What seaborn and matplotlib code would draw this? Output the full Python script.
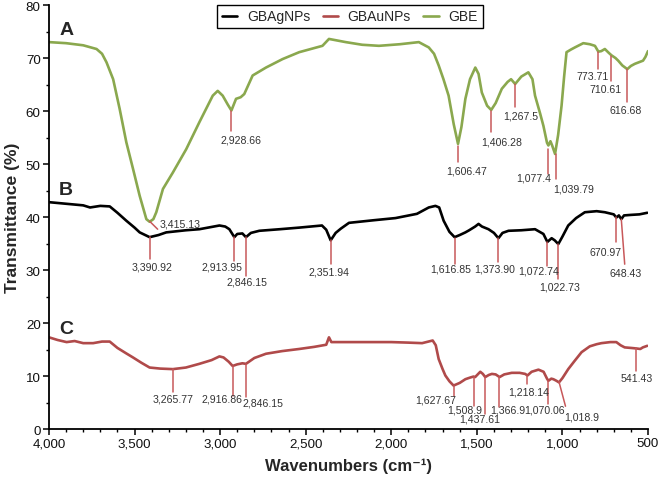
import numpy as np
import pandas as pd
import matplotlib
matplotlib.use("Agg")
import matplotlib.pyplot as plt
from matplotlib.ticker import MultipleLocator, FuncFormatter
import seaborn as sns

# ---------------- data ----------------
series_names = ["GBAgNPs", "GBAuNPs", "GBE"]

gbe_wn = [4000, 3900, 3800, 3722, 3690, 3664, 3625, 3587, 3548, 3509, 3470, 3431, 3412, 3390,
          3373, 3334, 3276, 3198, 3121, 3043, 3014, 2985, 2955, 2934, 2907, 2880, 2859, 2810,
          2732, 2635, 2538, 2402, 2364, 2266, 2170, 2072, 1950, 1839, 1781, 1750, 1723, 1695,
          1665, 1635, 1610, 1590, 1567, 1540, 1509, 1490, 1471, 1440, 1416, 1390, 1354, 1320,
          1300, 1276, 1240, 1199, 1175, 1160, 1130, 1111, 1090, 1082, 1070, 1060, 1043, 1025,
          1005, 990, 976, 950, 927, 878, 840, 810, 790, 773, 752, 730, 713, 690, 674, 650,
          621, 600, 577, 529, 515, 500]
gbe_t = [73.0, 72.8, 72.4, 71.7, 70.8, 69.2, 66.0, 60.4, 54.1, 49.1, 44.0, 39.6, 39.1, 39.6,
         40.9, 45.3, 48.4, 52.8, 57.9, 62.9, 63.8, 62.9, 61.2, 60.1, 62.3, 62.6, 63.2, 66.7,
         68.2, 69.8, 71.1, 72.3, 73.6, 73.0, 72.5, 72.3, 72.6, 73.0, 72.0, 70.8, 68.6, 66.0,
         62.9, 57.5, 53.8, 57.0, 62.3, 66.0, 68.2, 67.0, 63.5, 61.0, 60.2, 61.5, 64.2, 65.5,
         66.0, 65.1, 66.5, 67.3, 66.0, 62.9, 59.5, 57.2, 54.0, 53.5, 54.3, 53.5, 51.9, 55.5,
         61.0, 66.5, 71.1, 71.6, 72.0, 72.8, 72.6, 72.3, 71.2, 71.3, 71.7, 71.0, 70.5, 70.0,
         69.5, 68.6, 67.9, 68.5, 68.9, 69.5, 70.2, 71.3]

ag_wn = [4000, 3900, 3800, 3760, 3700, 3645, 3600, 3548, 3500, 3470, 3412, 3360, 3315, 3200,
         3121, 3004, 2970, 2946, 2917, 2900, 2870, 2849, 2820, 2771, 2650, 2538, 2405, 2380,
         2354, 2325, 2295, 2247, 2100, 1975, 1850, 1781, 1742, 1720, 1694, 1660, 1630, 1600,
         1567, 1545, 1510, 1490, 1470, 1432, 1400, 1374, 1350, 1315, 1240, 1160, 1111, 1088,
         1063, 1045, 1024, 1000, 966, 920, 869, 800, 752, 700, 685, 670, 656, 640, 600, 550,
         504]
ag_t = [42.8, 42.5, 42.2, 41.8, 42.1, 42.0, 40.8, 39.3, 38.0, 37.1, 36.2, 36.6, 37.1, 37.5,
        37.7, 38.4, 38.2, 37.7, 36.2, 36.8, 36.9, 36.2, 37.0, 37.4, 37.7, 38.0, 38.4, 37.6,
        35.6, 37.0, 37.8, 38.9, 39.4, 39.8, 40.6, 41.8, 42.1, 41.8, 39.3, 37.2, 36.2, 36.6,
        37.1, 37.5, 38.2, 38.7, 38.2, 37.7, 37.0, 36.0, 37.0, 37.4, 37.5, 37.7, 36.8, 35.3,
        36.0, 35.6, 34.9, 36.3, 38.4, 39.8, 40.9, 41.1, 40.9, 40.5, 39.9, 40.3, 39.6, 40.3,
        40.4, 40.5, 40.8]

au_wn = [4000, 3950, 3897, 3850, 3800, 3742, 3690, 3645, 3600, 3550, 3509, 3460, 3412, 3350,
         3276, 3200, 3121, 3050, 3004, 2980, 2950, 2927, 2900, 2870, 2849, 2800, 2732, 2638,
         2538, 2450, 2380, 2364, 2350, 2250, 2169, 2000, 1900, 1820, 1758, 1740, 1723, 1700,
         1684, 1660, 1636, 1600, 1567, 1540, 1519, 1510, 1495, 1480, 1465, 1451, 1430, 1412,
         1390, 1367, 1340, 1296, 1250, 1218, 1204, 1180, 1140, 1110, 1090, 1082, 1065, 1053,
         1035, 1020, 1000, 966, 930, 888, 840, 800, 772, 720, 685, 660, 636, 600, 568, 545,
         530, 504]
au_t = [17.3, 16.8, 16.4, 16.6, 16.2, 16.2, 16.5, 16.5, 15.3, 14.3, 13.5, 12.5, 11.6, 11.4,
        11.3, 11.6, 12.3, 13.0, 13.7, 13.5, 12.7, 11.9, 12.2, 12.4, 12.3, 13.4, 14.2, 14.7,
        15.1, 15.5, 15.9, 17.3, 16.4, 16.4, 16.4, 16.4, 16.3, 16.2, 16.7, 15.8, 13.2, 11.3,
        10.1, 9.0, 8.2, 8.7, 9.4, 9.7, 9.9, 9.8, 10.3, 10.8, 10.4, 9.8, 10.2, 10.4,
        10.3, 9.8, 10.3, 10.6, 10.6, 10.4, 10.1, 10.8, 11.2, 10.8, 9.5, 9.1, 9.5, 9.4,
        9.1, 8.8, 9.6, 11.3, 12.8, 14.5, 15.6, 16.0, 16.2, 16.4, 16.4, 15.8, 15.4, 15.3, 15.2,
        15.1, 15.4, 15.7]

# peak labels
peak_labels = ["3,415.13", "2,928.66", "1,606.47", "1,406.28", "1,267.5", "1,077.4", "1,039.79",
               "773.71", "710.61", "616.68",
               "3,390.92", "2,913.95", "2,846.15", "2,351.94", "1,616.85", "1,373.90", "1,072.74",
               "1,022.73", "670.97", "648.43",
               "3,265.77", "2,916.86", "2,846.15", "1,627.67", "1,508.9", "1,437.61", "1,366.9",
               "1,218.14", "1,070.06", "1,018.9", "541.43"]

# ---------------- layout of annotations ----------------
# (line x0, line y0, line x1, line y1, text x, text y, ha) in data coords
ann_layout = [
    (3412, 39.2, 3365, 37.7, 3354, 38.7, "left"),
    (2934, 60.0, 2934, 56.2, 2876, 54.7, "center"),
    (1611, 53.4, 1611, 50.4, 1560, 48.7, "center"),
    (1416, 60.0, 1416, 56.0, 1356, 54.3, "center"),
    (1276, 65.1, 1276, 60.8, 1245, 59.2, "center"),
    (1086, 52.8, 1086, 48.1, 1170, 47.4, "center"),
    (1040, 51.9, 1040, 47.2, 937, 45.4, "center"),
    (790, 71.1, 790, 67.9, 823, 66.7, "center"),
    (714, 70.4, 714, 65.7, 748, 64.2, "center"),
    (622, 67.9, 622, 61.7, 631, 60.1, "center"),
    (3412, 36.2, 3412, 32.1, 3400, 30.7, "center"),
    (2917, 36.2, 2917, 31.7, 2987, 30.7, "center"),
    (2849, 36.2, 2849, 28.9, 2841, 27.8, "center"),
    (2354, 35.6, 2354, 31.2, 2364, 29.7, "center"),
    (1630, 36.0, 1630, 31.1, 1650, 30.2, "center"),
    (1374, 36.0, 1374, 31.5, 1394, 30.2, "center"),
    (1088, 35.3, 1088, 30.8, 1141, 30.0, "center"),
    (1024, 34.9, 1024, 28.3, 1015, 26.9, "center"),
    (685, 40.0, 685, 35.3, 750, 33.4, "center"),
    (656, 39.6, 636, 31.1, 628, 29.5, "center"),
    (3276, 11.3, 3276, 7.0, 3275, 5.8, "center"),
    (2927, 11.9, 2927, 6.2, 2987, 5.8, "center"),
    (2849, 12.3, 2849, 6.0, 2748, 5.0, "center"),
    (1636, 8.1, 1636, 6.2, 1743, 5.5, "center"),
    (1515, 9.8, 1515, 4.3, 1572, 3.6, "center"),
    (1451, 9.8, 1451, 2.8, 1484, 2.0, "center"),
    (1368, 9.8, 1368, 4.2, 1318, 3.6, "center"),
    (1205, 10.0, 1205, 8.5, 1199, 7.1, "center"),
    (1082, 9.1, 1082, 4.7, 1106, 3.6, "center"),
    (1020, 8.9, 982, 4.3, 890, 2.4, "center"),
    (568, 15.3, 568, 10.9, 564, 9.6, "center"),
]

panel_letters = ["A", "B", "C"]
panel_pos = [(3895, 75.3), (3900, 45.1), (3900, 18.9)]

# ---------------- build frame ----------------
df = pd.concat([
    pd.DataFrame({"wn": ag_wn, "T": ag_t, "series": "GBAgNPs"}),
    pd.DataFrame({"wn": au_wn, "T": au_t, "series": "GBAuNPs"}),
    pd.DataFrame({"wn": gbe_wn, "T": gbe_t, "series": "GBE"}),
], ignore_index=True)

palette = {"GBAgNPs": "#000000", "GBAuNPs": "#b04a4a", "GBE": "#8aa84e"}

sns.set_style("ticks")
plt.rcParams["font.family"] = ["Liberation Sans", "DejaVu Sans"]

fig = plt.figure(figsize=(6.6, 4.81), dpi=100)
ax = fig.add_axes([0.0742, 0.106, 0.9076, 0.8815])

sns.lineplot(data=df, x="wn", y="T", hue="series", hue_order=series_names,
             palette=palette, estimator=None, sort=False, linewidth=1.9, ax=ax, legend=True)

ax.set_xlim(4000, 500)
ax.set_ylim(0, 80)
ax.xaxis.set_major_locator(MultipleLocator(500))
ax.xaxis.set_minor_locator(MultipleLocator(100))
ax.yaxis.set_major_locator(MultipleLocator(10))
ax.yaxis.set_minor_locator(MultipleLocator(5))
ax.xaxis.set_major_formatter(FuncFormatter(lambda v, p: f"{int(round(v)):,}"))
ax.tick_params(axis="both", which="major", labelsize=9.6, length=4, width=1.1, color="black",
               labelcolor="#111111", pad=2)
ax.tick_params(axis="both", which="minor", length=2.5, width=1.0, color="black")
for s in ["top", "right"]:
    ax.spines[s].set_visible(False)
for s in ["left", "bottom"]:
    ax.spines[s].set_linewidth(1.3)
    ax.spines[s].set_color("black")

ax.set_xlabel("Wavenumbers (cm\u207b\u00b9)", fontsize=12, fontweight="bold", labelpad=6)
ax.set_ylabel("Transmittance (%)", fontsize=12.6, fontweight="bold", labelpad=4)

ann_color = "#c8585a"
for lab, (x0, y0, x1, y1, tx, ty, ha) in zip(peak_labels, ann_layout):
    ax.plot([x0, x1], [y0, y1], color=ann_color, linewidth=1.1, zorder=3)
    ax.text(tx, ty, lab, fontsize=7.6, color="#333333", ha=ha, va="center", zorder=4)

for letter, (px, py) in zip(panel_letters, panel_pos):
    ax.text(px, py, letter, fontsize=14, fontweight="bold", ha="center", va="center")

handles, labels = ax.get_legend_handles_labels()
ax.get_legend().remove()
leg = fig.legend(handles, labels, loc="upper center", bbox_to_anchor=(0.530, 1.003), ncol=3,
                 frameon=True, fancybox=False, fontsize=10, handlelength=1.1,
                 columnspacing=0.9, handletextpad=0.7, borderpad=0.35)
leg.get_frame().set_edgecolor("black")
leg.get_frame().set_linewidth(1.0)
leg.get_frame().set_alpha(1)

fig.savefig("out.png", dpi=100)
